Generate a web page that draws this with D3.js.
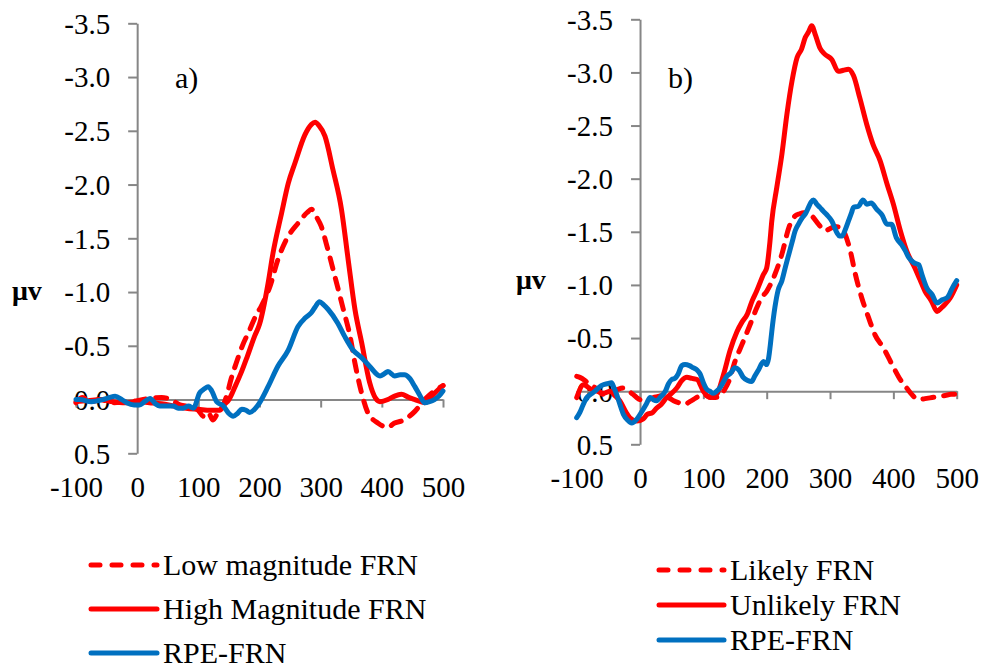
<!DOCTYPE html>
<html>
<head>
<meta charset="utf-8">
<script src="https://cdn.jsdelivr.net/npm/d3@7"></script>
<style>
  body { margin: 0; background: #fff; }
  svg { display: block; font-family: "Liberation Serif", "Times New Roman", serif; }
</style>
</head>
<body>
<svg id="chart" width="985" height="669"></svg>
<script>
// time (ms), amplitude (uV) pairs
var aLow = [[-100,0.03],[-90,-0.02],[-75,0.02],[-60,0.0],[-40,0.03],[-20,0.02],[0,0.01],[20,-0.01],[40,-0.02],[55,0.0],[70,0.05],[90,0.07],[100,0.1],[108,0.155],[116,0.12],[124,0.19],[132,0.12],[140,0.06],[146,-0.03],[154,-0.2],[162,-0.34],[172,-0.5],[184,-0.65],[194,-0.78],[203,-0.87],[217,-1.05],[230,-1.3],[244,-1.49],[263,-1.64],[278,-1.74],[285,-1.77],[293,-1.7],[301,-1.61],[312,-1.39],[323,-1.15],[337,-0.84],[348,-0.59],[356,-0.34],[367,-0.06],[377,0.12],[394,0.22],[410,0.26],[420,0.22],[432,0.2],[444,0.16],[454,0.11],[470,0.0],[486,-0.08],[500,-0.13]]
var aHigh = [[-100,0.02],[-80,0.01],[-60,0.0],[-40,0.02],[-20,0.03],[0,0.02],[20,0.03],[40,0.04],[60,0.06],[80,0.08],[100,0.09],[120,0.1],[135,0.1],[142,0.05],[150,0.0],[160,-0.12],[170,-0.25],[180,-0.4],[192,-0.59],[200,-0.7],[214,-1.08],[222,-1.36],[236,-1.73],[247,-2.01],[258,-2.2],[274,-2.46],[285,-2.56],[291,-2.58],[297,-2.55],[307,-2.45],[320,-2.14],[334,-1.77],[345,-1.3],[356,-0.84],[367,-0.53],[380,-0.16],[390,-0.01],[397,0.02],[410,0.0],[420,-0.03],[432,-0.05],[444,-0.02],[454,0.0],[470,0.03],[480,-0.02],[490,-0.08],[500,-0.13]]
var aRpe = [[-100,0.0],[-94,0.0],[-75,0.02],[-56,0.0],[-45,-0.02],[-36,-0.03],[-25,0.0],[-17,0.03],[-5,0.05],[4,0.05],[12,0.02],[21,-0.01],[30,0.04],[37,0.06],[48,0.06],[59,0.06],[67,0.08],[75,0.08],[84,0.06],[92,0.08],[102,-0.06],[110,-0.1],[116,-0.12],[122,-0.08],[130,0.02],[141,0.06],[150,0.13],[157,0.155],[164,0.13],[171,0.09],[178,0.1],[184,0.12],[192,0.09],[200,0.03],[214,-0.12],[230,-0.31],[247,-0.46],[263,-0.68],[275,-0.76],[285,-0.81],[291,-0.86],[298,-0.91],[305,-0.88],[312,-0.84],[328,-0.71],[339,-0.59],[353,-0.46],[367,-0.39],[380,-0.31],[397,-0.22],[404,-0.24],[410,-0.26],[421,-0.22],[430,-0.23],[437,-0.23],[445,-0.2],[454,-0.12],[462,-0.04],[470,0.03],[478,0.02],[486,0.0],[493,-0.03],[500,-0.08]]

var bLikely = [[-100,-0.14],[-95,-0.13],[-87,-0.1],[-79,-0.06],[-70,-0.03],[-58,0.03],[-50,0.02],[-42,0.0],[-34,-0.02],[-26,-0.03],[-18,0.0],[-11,0.03],[-3,0.07],[5,0.09],[13,0.08],[21,0.06],[29,0.05],[37,0.03],[45,0.06],[53,0.09],[62,0.11],[71,0.125],[78,0.1],[84,0.08],[92,0.05],[100,0.03],[108,0.05],[116,0.06],[126,0.05],[133,-0.01],[140,-0.09],[150,-0.28],[161,-0.44],[174,-0.63],[184,-0.78],[192,-0.88],[200,-0.94],[213,-1.1],[224,-1.29],[235,-1.54],[245,-1.65],[252,-1.67],[258,-1.68],[265,-1.67],[271,-1.65],[282,-1.57],[292,-1.51],[300,-1.53],[308,-1.55],[315,-1.54],[321,-1.51],[332,-1.32],[340,-1.1],[350,-0.88],[361,-0.69],[371,-0.53],[384,-0.41],[398,-0.25],[413,-0.09],[421,-0.03],[429,0.03],[436,0.07],[440,0.08],[450,0.07],[461,0.06],[472,0.05],[482,0.04],[491,0.03],[500,0.03]]
var bUnlikely = [[-100,0.06],[-89,-0.06],[-78,-0.02],[-68,0.0],[-58,0.02],[-47,0.0],[-40,0.04],[-32,0.09],[-22,0.2],[-16,0.25],[-5,0.28],[5,0.26],[11,0.22],[20,0.2],[26,0.16],[34,0.12],[42,0.06],[50,0.02],[58,-0.03],[66,-0.1],[74,-0.13],[82,-0.12],[90,-0.11],[100,0.0],[111,0.06],[121,0.03],[132,-0.16],[142,-0.38],[153,-0.56],[161,-0.65],[169,-0.72],[177,-0.85],[184,-0.94],[195,-1.1],[200,-1.16],[205,-1.4],[208,-1.6],[216,-1.92],[224,-2.23],[232,-2.61],[240,-2.92],[248,-3.14],[255,-3.22],[261,-3.33],[266,-3.38],[271,-3.44],[277,-3.35],[284,-3.23],[292,-3.17],[303,-3.12],[313,-3.01],[321,-3.02],[329,-3.03],[337,-2.97],[347,-2.76],[358,-2.51],[368,-2.32],[379,-2.17],[390,-1.95],[400,-1.76],[411,-1.51],[421,-1.32],[434,-1.16],[442,-1.05],[450,-0.94],[460,-0.85],[469,-0.75],[475,-0.78],[482,-0.82],[490,-0.88],[500,-1.0]]
var bRpe = [[-100,0.25],[-95,0.2],[-90,0.13],[-84,0.06],[-78,0.03],[-71,0.0],[-64,-0.04],[-58,-0.06],[-52,-0.07],[-45,-0.08],[-41,-0.03],[-37,0.03],[-32,0.12],[-26,0.22],[-20,0.27],[-13,0.3],[-6,0.27],[3,0.19],[10,0.12],[16,0.06],[21,0.08],[26,0.09],[33,0.05],[40,0.0],[45,-0.07],[50,-0.11],[55,-0.12],[60,-0.16],[66,-0.24],[71,-0.25],[78,-0.24],[84,-0.22],[90,-0.2],[95,-0.16],[100,-0.08],[105,-0.02],[110,0.0],[116,0.02],[121,0.0],[126,-0.03],[131,-0.08],[137,-0.14],[143,-0.17],[150,-0.22],[156,-0.2],[163,-0.13],[170,-0.1],[176,-0.09],[181,-0.14],[187,-0.2],[195,-0.28],[200,-0.25],[203,-0.31],[206,-0.45],[208,-0.56],[213,-0.79],[218,-0.95],[224,-1.04],[230,-1.18],[235,-1.29],[240,-1.4],[245,-1.51],[250,-1.57],[256,-1.63],[262,-1.68],[266,-1.73],[270,-1.78],[274,-1.8],[279,-1.76],[284,-1.73],[290,-1.69],[295,-1.66],[303,-1.6],[311,-1.49],[315,-1.46],[319,-1.46],[324,-1.52],[329,-1.6],[334,-1.68],[337,-1.73],[345,-1.74],[352,-1.8],[358,-1.76],[365,-1.77],[374,-1.71],[382,-1.66],[390,-1.57],[397,-1.57],[405,-1.44],[413,-1.38],[419,-1.32],[424,-1.26],[432,-1.21],[440,-1.19],[445,-1.1],[453,-0.97],[461,-0.91],[469,-0.83],[477,-0.86],[485,-0.88],[493,-0.97],[500,-1.04]]

var xTicks = [-100, 0, 100, 200, 300, 400, 500]
var yTicks = [-3.5, -3.0, -2.5, -2.0, -1.5, -1.0, -0.5, 0.0, 0.5]
var legendA = ["Low magnitude FRN", "High Magnitude FRN", "RPE-FRN"]
var legendB = ["Likely FRN", "Unlikely FRN", "RPE-FRN"]

var RED = "#ff0000", BLUE = "#0070c0", GRAY = "#868686"
var styles = [
  {color: RED, dash: "11,10"},
  {color: RED, dash: null},
  {color: BLUE, dash: null}
]

var svg = d3.select("#chart")

function drawPanel(cfg) {
    var x = d3.scaleLinear().domain([-100, 500]).range(cfg.xr)
    // negative up, as in the original
    var y = d3.scaleLinear().domain([-3.5, 0.5]).range(cfg.yr)
    var g = svg.append("g")

    // y axis crosses at t = 0
    var yAx = g.append("g")
        .attr("transform", "translate(" + x(0) + ",0)")
        .call(d3.axisLeft(y).tickValues(yTicks).tickSize(9).tickSizeOuter(0).tickPadding(18)
            .tickFormat(function(d) { return d.toFixed(1) }))
    yAx.selectAll("line, path").attr("stroke", GRAY).attr("stroke-width", 2)
    yAx.selectAll("text").attr("font-size", 29).attr("fill", "#000")
        .attr("font-family", "Liberation Serif").attr("dy", "0.34em")

    // x axis at v = 0, labels pushed to the bottom
    var xAx = g.append("g")
        .attr("transform", "translate(0," + y(0) + ")")
        .call(d3.axisBottom(x).tickValues(xTicks).tickSize(8).tickSizeOuter(0)
            .tickFormat(function(d) { return d }))
    xAx.selectAll("line, path").attr("stroke", GRAY).attr("stroke-width", 2)
    xAx.selectAll("text").attr("font-size", 29).attr("fill", "#000")
        .attr("font-family", "Liberation Serif")
        .attr("dy", null).attr("y", cfg.xlab - y(0))

    var line = d3.line()
        .x(function(d) { return x(d[0]) })
        .y(function(d) { return y(d[1]) })
        .curve(d3.curveMonotoneX)

    cfg.series.forEach(function(s, i) {
        g.append("path")
            .datum(s)
            .attr("fill", "none")
            .attr("stroke", styles[i].color)
            .attr("stroke-width", 5)
            .attr("stroke-linejoin", "round")
            .attr("stroke-linecap", "round")
            .attr("stroke-dasharray", styles[i].dash)
            .attr("d", line)
    })

    g.append("text").attr("x", cfg.tag[0]).attr("y", cfg.tag[1])
        .attr("font-size", 30).text(cfg.tagText)

    g.append("text").attr("x", cfg.unit[0]).attr("y", cfg.unit[1])
        .attr("font-size", 28).attr("font-weight", "bold").text("μv")

    // legend
    cfg.legend.forEach(function(name, i) {
        var ly = cfg.leg.rows[i]
        g.append("line")
            .attr("x1", cfg.leg.x1).attr("x2", cfg.leg.x2)
            .attr("y1", ly).attr("y2", ly)
            .attr("stroke", styles[i].color)
            .attr("stroke-width", 5)
            .attr("stroke-linecap", "round")
            .attr("stroke-dasharray", styles[i].dash ? "9,12" : null)
        g.append("text").attr("x", cfg.leg.tx).attr("y", ly + 10)
            .attr("font-size", 30).text(name)
    })
}

drawPanel({
    xr: [76, 443], yr: [23.3, 453.3], xlab: 497,
    series: [aLow, aHigh, aRpe],
    tag: [175, 88], tagText: "a)",
    unit: [12, 300],
    legend: legendA,
    leg: {x1: 91, x2: 157, tx: 163, rows: [565, 609, 653]}
})

drawPanel({
    xr: [576.7, 956.7], yr: [19.3, 444.3], xlab: 488,
    series: [bLikely, bUnlikely, bRpe],
    tag: [668, 88], tagText: "b)",
    unit: [516, 289],
    legend: legendB,
    leg: {x1: 659, x2: 724, tx: 730, rows: [570, 605, 640]}
})
</script>
</body>
</html>
